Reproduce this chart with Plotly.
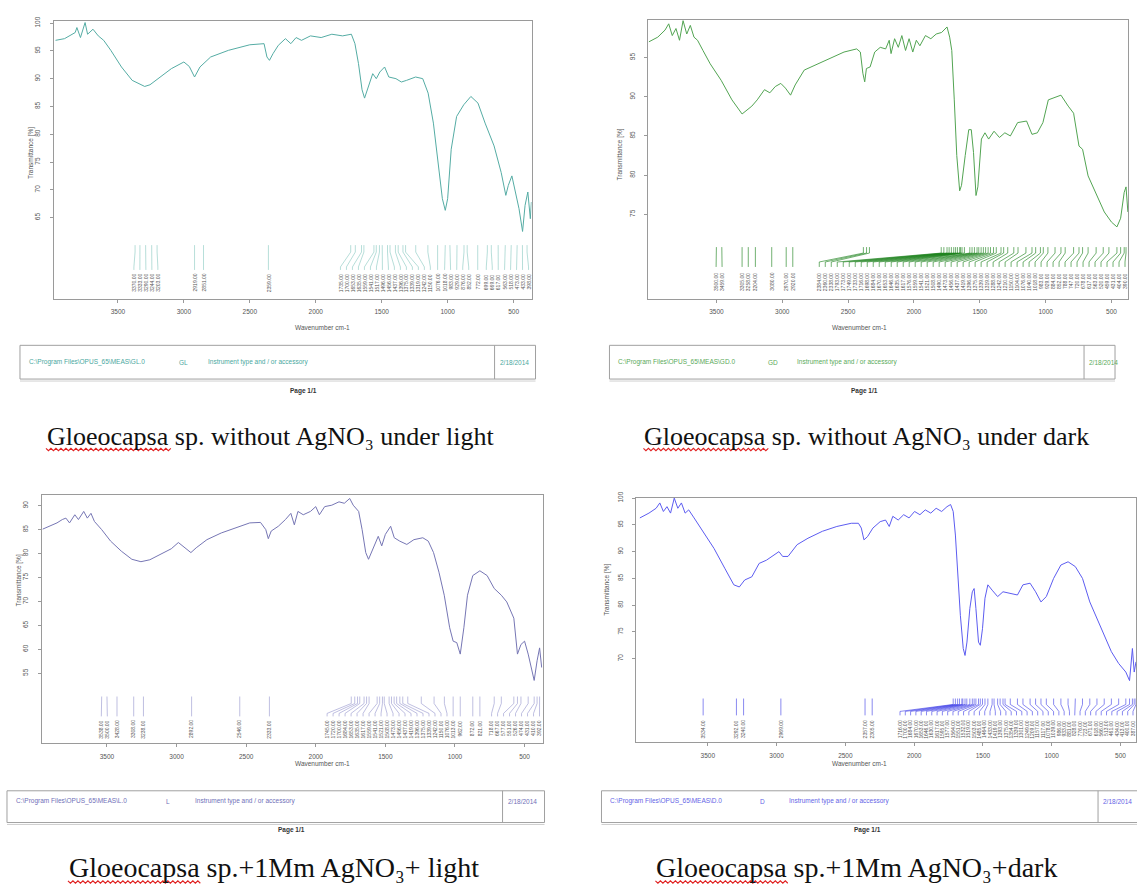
import plotly.graph_objects as go

W, H = 1137, 890

# ---------------- DATA ----------------
# Panel 1: Gloeocapsa sp. without AgNO3 under light
wn1 = [3973, 3905, 3824, 3811, 3784, 3749, 3730, 3689, 3649, 3608, 3554, 3473, 3392, 3297, 3257,
       3176, 3095, 3000, 2959, 2919, 2878, 2797, 2662, 2500, 2392, 2370, 2351, 2324, 2284, 2230,
       2189, 2149, 2108, 2040, 1959, 1878, 1797, 1730, 1703, 1676, 1649, 1630, 1608, 1568, 1541,
       1514, 1478, 1446, 1392, 1351, 1311, 1243, 1189, 1148, 1108, 1067, 1040, 1018, 1000, 973,
       932, 878, 824, 770, 716, 648, 594, 559, 540, 513, 486, 459, 432, 413, 392, 373, 365]
t1 = [96.9, 97.2, 98.3, 99.2, 97.4, 100.1, 98.0, 98.9, 97.7, 96.9, 95.1, 92.1, 89.7, 88.6, 88.9,
      90.3, 91.8, 93.0, 92.2, 90.3, 92.1, 93.9, 95.1, 96.1, 96.3, 93.9, 93.3, 94.5, 96.0, 97.2,
      96.3, 97.4, 96.9, 97.7, 97.4, 98.0, 97.7, 98.0, 96.3, 92.7, 88.0, 86.5, 88.0, 90.9, 90.0,
      91.2, 92.1, 90.3, 90.0, 89.4, 89.7, 90.3, 90.0, 87.4, 82.0, 74.3, 68.4, 66.3, 68.4, 77.3,
      83.2, 85.3, 86.8, 85.6, 82.0, 77.9, 73.1, 69.0, 70.8, 72.5, 69.6, 66.6, 62.5, 67.2, 69.6, 64.8, 67.8]
peaks1 = [3370, 3333, 3290, 3244, 3203, 2919, 2851, 2359,
          1735, 1700, 1653, 1635, 1559, 1541, 1517, 1496, 1456, 1437, 1396, 1375, 1339, 1319,
          1242, 1150, 1076, 1018, 983, 929, 876, 852, 772, 699, 669, 617, 563, 518, 473, 433, 398]

# Panel 2: Gloeocapsa sp. without AgNO3 under dark
wn2 = [4013, 3945, 3890, 3862, 3835, 3807, 3780, 3753, 3725, 3698, 3670, 3643, 3602, 3547, 3464,
       3382, 3305, 3272, 3231, 3190, 3135, 3094, 3053, 3011, 2976, 2937, 2902, 2833, 2751, 2641,
       2531, 2435, 2407, 2388, 2374, 2361, 2333, 2298, 2256, 2215, 2188, 2174, 2147, 2119, 2092,
       2064, 2037, 2009, 1982, 1955, 1913, 1872, 1831, 1790, 1749, 1729, 1713, 1694, 1675, 1653,
       1639, 1611, 1584, 1565, 1548, 1529, 1515, 1488, 1461, 1433, 1392, 1351, 1310, 1268, 1213,
       1145, 1104, 1063, 1021, 980, 925, 884, 829, 788, 747, 720, 678, 610, 555, 500, 459, 431,
       404, 390, 376]
t2 = [97.0, 97.6, 98.5, 99.3, 97.8, 98.7, 97.2, 99.7, 98.0, 99.1, 97.6, 97.2, 95.9, 94.2, 92.1,
      89.6, 87.8, 88.3, 88.8, 89.6, 90.9, 90.5, 91.3, 91.7, 91.1, 90.2, 91.5, 93.4, 94.0, 94.9,
      95.7, 96.1, 95.7, 93.0, 91.9, 93.6, 93.8, 95.7, 96.3, 96.1, 97.2, 95.5, 97.4, 96.3, 97.8,
      95.9, 97.4, 95.7, 97.2, 96.5, 97.8, 97.4, 98.0, 98.2, 98.9, 97.6, 95.9, 89.6, 82.5, 78.0,
      78.7, 82.5, 85.8, 85.8, 82.9, 77.4, 78.5, 84.6, 85.4, 84.6, 85.6, 84.8, 85.4, 85.0, 86.7,
      86.9, 85.2, 85.4, 86.7, 89.6, 90.0, 90.2, 88.8, 87.9, 83.7, 83.3, 79.9, 77.4, 75.3, 74.0, 73.4, 74.5,
      77.8, 78.5, 75.3]
peaks2 = [3500, 3459, 3305, 3258, 3204, 3080, 2970, 2920,
          2384, 2360, 2338, 1793, 1773, 1749, 1733, 1716, 1698, 1684, 1670, 1653, 1646, 1635,
          1617, 1576, 1559, 1541, 1521, 1508, 1490, 1473, 1456, 1437, 1419, 1396, 1375, 1339,
          1319, 1288, 1242, 1210, 1150, 1104, 1076, 1040, 1018, 983, 929, 884, 852, 788, 747,
          720, 678, 617, 563, 520, 459, 431, 404, 390]

# Panel 3: Gloeocapsa sp. + 1Mm AgNO3 + light
wn3 = [3962, 3910, 3859, 3821, 3795, 3769, 3731, 3705, 3667, 3641, 3615, 3590, 3538, 3474, 3397,
       3321, 3256, 3192, 3115, 3038, 2987, 2936, 2897, 2859, 2782, 2679, 2577, 2474, 2397, 2359,
       2341, 2320, 2269, 2218, 2179, 2154, 2128, 2090, 2038, 2000, 1974, 1936, 1885, 1833, 1795,
       1756, 1731, 1692, 1667, 1641, 1621, 1590, 1551, 1526, 1500, 1462, 1436, 1397, 1346, 1295,
       1231, 1192, 1154, 1115, 1077, 1038, 1013, 987, 962, 936, 910, 872, 821, 769, 718, 667,
       628, 577, 551, 526, 500, 474, 449, 431, 410, 392, 377]
t3 = [85.1, 85.7, 86.4, 87.1, 87.4, 86.4, 88.1, 87.1, 88.8, 87.4, 88.4, 86.7, 85.0, 82.6, 80.5,
      78.8, 78.3, 78.7, 79.9, 81.0, 82.3, 81.2, 80.2, 81.2, 82.9, 84.3, 85.3, 86.4, 86.5, 85.0,
      83.1, 84.7, 85.7, 87.1, 88.4, 86.0, 88.8, 88.1, 88.8, 89.8, 88.1, 89.8, 90.1, 90.8, 90.5,
      91.5, 90.1, 88.8, 85.0, 80.2, 78.8, 80.9, 83.6, 81.6, 84.0, 85.7, 83.3, 82.6, 81.9, 82.9,
      83.3, 82.6, 80.2, 76.1, 71.3, 64.5, 61.7, 61.4, 59.0, 64.5, 71.3, 75.4, 76.4, 75.4, 72.7, 71.3,
      69.9, 66.5, 59.0, 61.0, 61.7, 59.0, 55.5, 53.5, 57.6, 60.3, 56.2]
peaks3 = [3538, 3500, 3428, 3308, 3238, 2892, 2546, 2333,
          1745, 1720, 1700, 1684, 1653, 1635, 1617, 1559, 1541, 1521, 1508, 1473, 1456, 1437,
          1419, 1396, 1375, 1339, 1242, 1150, 1076, 1013, 962, 872, 821, 718, 667, 577, 551,
          526, 474, 431, 410, 392]

# Panel 4: Gloeocapsa sp. + 1Mm AgNO3 + dark
wn4 = [3994, 3928, 3876, 3849, 3823, 3797, 3771, 3744, 3718, 3692, 3665, 3639, 3600, 3534, 3455,
       3377, 3311, 3271, 3232, 3180, 3127, 3074, 3022, 2983, 2956, 2917, 2851, 2772, 2667, 2562,
       2457, 2405, 2384, 2365, 2339, 2300, 2247, 2208, 2181, 2155, 2116, 2076, 2037, 1997, 1958,
       1919, 1879, 1840, 1800, 1761, 1735, 1716, 1700, 1682, 1664, 1643, 1630, 1616, 1595, 1577,
       1564, 1551, 1532, 1519, 1503, 1485, 1464, 1433, 1393, 1354, 1301, 1249, 1209, 1157, 1117,
       1078, 1039, 986, 933, 881, 828, 776, 723, 671, 618, 566, 513, 461, 434, 413, 400, 387]
t4 = [96.3, 97.2, 98.1, 99.1, 97.5, 98.4, 97.2, 100.0, 98.1, 99.1, 97.2, 97.8, 96.3, 93.8, 90.6,
      86.9, 83.8, 83.4, 84.7, 85.3, 87.8, 88.4, 89.4, 90.0, 89.1, 89.1, 91.3, 92.5, 93.8, 94.7,
      95.3, 95.3, 94.4, 92.2, 92.8, 94.4, 95.6, 95.9, 94.7, 96.6, 95.9, 96.9, 96.3, 97.5, 96.9,
      97.8, 97.2, 98.1, 97.5, 98.4, 98.8, 97.5, 93.1, 85.6, 78.1, 71.9, 70.6, 73.1, 79.4, 82.5,
      83.1, 79.4, 73.1, 72.5, 75.6, 81.3, 83.8, 82.8, 81.6, 82.5, 82.2, 81.9, 83.8, 84.1, 82.5,
      80.6, 81.6, 85.0, 87.5, 88.1, 87.2, 85.0, 80.6, 77.5, 74.4, 71.3, 69.1, 67.5, 65.9, 71.9, 67.5, 69.4]
peaks4 = [3534, 3292, 3240, 2969, 2357, 2305,
          1716, 1700, 1684, 1670, 1653, 1646, 1630, 1617, 1595, 1577, 1564, 1551, 1532, 1519,
          1503, 1485, 1464, 1433, 1419, 1393, 1375, 1354, 1339, 1301, 1249, 1209, 1157, 1117,
          1078, 1039, 986, 933, 881, 828, 776, 723, 671, 618, 566, 513, 461, 434, 413, 400, 387]

x_ticks = [3500, 3000, 2500, 2000, 1500, 1000, 500]
y_ticks = [[100, 95, 90, 85, 80, 75, 70, 65],
           [95, 90, 85, 80, 75],
           [90, 85, 80, 75, 70, 65, 60, 55],
           [100, 95, 90, 85, 80, 75, 70]]

captions = ["Gloeocapsa sp. without AgNO\u2083 under light",
            "Gloeocapsa sp. without AgNO\u2083 under dark",
            "Gloeocapsa sp.+1Mm AgNO\u2083+ light",
            "Gloeocapsa sp.+1Mm AgNO\u2083+dark"]
footer_ids = ["GL", "GD", "L", "D"]

# ---------------- LAYOUT SPEC (pixels) ----------------
# cap = (left x, centre y, squiggle length, font size, squiggle y)
panels = [
    dict(wn=wn1, t=t1, pk=peaks1, x0=54, x1=532, y0=14, y1=294, xr=(3985, 364), yr=(50.4, 100.4),
         col="#55aca4", ccol="#86c8c0", fcol="#4aa8a0", conn=(240, 247, 262, 265, 267), sp=6.0,
         ytx=25, yty=119, xtx=293, xty=323,
         box=(20, 536, 341, 375, 495), page=(288, 387), cap=(45, 433, 126, 26, 446)),
    dict(wn=wn2, t=t2, pk=peaks2, x0=649, x1=1129, y0=13, y1=294, xr=(4016, 375), yr=(64.24, 99.8),
         col="#52a452", ccol="#127c12", fcol="#5aaa5a", conn=(242, 248, 257, 262, 266), sp=6.0,
         ytx=621, yty=120, xtx=890, xty=323,
         box=(610, 1116, 341, 375, 1085), page=(881, 387), cap=(643, 433, 126, 26, 446)),
    dict(wn=wn3, t=t3, pk=peaks3, x0=42, x1=543, y0=492, y1=742, xr=(3967, 371), yr=(40.4, 92.2),
         col="#7676b4", ccol="#9494cc", fcol="#7070b8", conn=(695, 702, 712, 715, 717), sp=6.0,
         ytx=13, yty=578, xtx=293, xty=768,
         box=(7, 545, 790, 822, 503), page=(276, 836), cap=(67, 867, 134, 28, 882)),
    dict(wn=wn4, t=t4, pk=peaks4, x0=637, x1=1137, y0=495, y1=741, xr=(4019, 387), yr=(54.4, 100.0),
         col="#5c5cf0", ccol="#3a3ae6", fcol="#6464e6", conn=(697, 703, 710, 714, 717), sp=5.3,
         ytx=608, yty=587, xtx=890, xty=768,
         box=(602, 1150, 790, 822, 1099), page=(884, 836), cap=(655, 867, 134, 28, 882)),
]


def fx(px):
    return px / W


def fy(py):
    return 1 - py / H


def spread(pos, S, lo, hi):
    """Place labels (pixel x, ascending) at least S apart, centred on their peaks."""
    groups = [[p] for p in pos]
    centers = list(pos)
    changed = True
    while changed:
        changed = False
        i = 0
        while i < len(groups) - 1:
            ri = centers[i] + (len(groups[i]) - 1) * S / 2
            lj = centers[i + 1] - (len(groups[i + 1]) - 1) * S / 2
            if lj - ri < S:
                g = groups[i] + groups[i + 1]
                groups[i:i + 2] = [g]
                c = sum(g) / len(g)
                half = (len(g) - 1) * S / 2
                c = min(max(c, lo + half), hi - half)
                centers[i:i + 2] = [c]
                changed = True
            else:
                i += 1
    out = []
    for g, c in zip(groups, centers):
        n = len(g)
        for k in range(n):
            out.append(c - (n - 1) * S / 2 + k * S)
    return out


fig = go.Figure()
annotations = []
shapes = []
layout_axes = {}
BS = "&#92;"

for i, p in enumerate(panels):
    n = "" if i == 0 else str(i + 1)
    xa, ya = "x" + n, "y" + n
    xr0, xr1 = p["xr"]
    yb, yt = p["yr"]

    def wn2px(w, p=p):
        return p["x0"] + (p["xr"][0] - w) / (p["xr"][0] - p["xr"][1]) * (p["x1"] - p["x0"])

    def px2wn(px, p=p):
        return p["xr"][0] - (px - p["x0"]) / (p["x1"] - p["x0"]) * (p["xr"][0] - p["xr"][1])

    def py2t(py, p=p):
        return p["yr"][0] + (p["y1"] - py) / (p["y1"] - p["y0"]) * (p["yr"][1] - p["yr"][0])

    # spectrum
    fig.add_trace(go.Scatter(x=p["wn"], y=p["t"], mode="lines", xaxis=xa, yaxis=ya,
                             line=dict(color=p["col"], width=1), showlegend=False, hoverinfo="skip"))

    # peak picking labels
    pk_sorted = sorted(p["pk"], reverse=True)
    pk_px = [wn2px(w) for w in pk_sorted]
    lab_px = spread(pk_px, p["sp"], p["x0"] + 3, min(p["x1"], W) - 3)
    ctop, cmid, cknee, cbot, ctext = p["conn"]
    cx, cy = [], []
    for w, lp in zip(pk_sorted, lab_px):
        lw = px2wn(lp)
        cx += [w, w, lw, lw, None]
        cy += [py2t(ctop), py2t(cmid), py2t(cknee), py2t(cbot), None]
        annotations.append(dict(x=lw, y=py2t(ctext), xref=xa, yref=ya, text=f"{w:.2f}",
                                textangle=-90, showarrow=False, xanchor="center", yanchor="top",
                                font=dict(size=5, color="#555555", family="Liberation Sans")))
    fig.add_trace(go.Scatter(x=cx, y=cy, mode="lines", xaxis=xa, yaxis=ya,
                             line=dict(color=p["ccol"], width=0.6), showlegend=False, hoverinfo="skip"))

    axis_common = dict(showgrid=False, zeroline=False, showline=True, linecolor="#9a9a9a", linewidth=1,
                       mirror=True, ticks="outside", ticklen=3, tickcolor="#9a9a9a",
                       tickfont=dict(size=6.5, color="#555555", family="Liberation Sans"))
    layout_axes["xaxis" + n] = dict(axis_common, domain=[fx(p["x0"]), fx(min(p["x1"], W))],
                                    range=[xr0, xr1], tickvals=x_ticks, anchor=ya,
                                    ticklabelstandoff=4)
    layout_axes["yaxis" + n] = dict(axis_common, domain=[fy(p["y1"]), fy(p["y0"])],
                                    range=[yb, yt], tickvals=y_ticks[i], anchor=xa,
                                    tickangle=-90, ticklabelstandoff=7)

    # axis titles
    annotations.append(dict(x=fx(p["xtx"]), y=fy(p["xty"]), xref="paper", yref="paper",
                            text="Wavenumber cm-1", showarrow=False,
                            font=dict(size=6.5, color="#555555", family="Liberation Sans")))
    annotations.append(dict(x=fx(p["ytx"]), y=fy(p["yty"]), xref="paper", yref="paper",
                            text="Transmittance [%]", textangle=-90, showarrow=False,
                            font=dict(size=6.5, color="#555555", family="Liberation Sans")))

    # footer box
    bx0, bx1, by0, by1, bdiv = p["box"]
    shapes.append(dict(type="rect", xref="paper", yref="paper", x0=fx(bx0), x1=fx(bx1),
                       y0=fy(by1), y1=fy(by0), line=dict(color="#a0a0a0", width=1)))
    shapes.append(dict(type="line", xref="paper", yref="paper", x0=fx(bx0), x1=fx(bx1),
                       y0=fy(by1 + 2), y1=fy(by1 + 2), line=dict(color="#d0d0d0", width=1)))
    shapes.append(dict(type="line", xref="paper", yref="paper", x0=fx(bdiv), x1=fx(bdiv),
                       y0=fy(by1), y1=fy(by0), line=dict(color="#a0a0a0", width=1)))
    ymid = fy((by0 + by1) / 2)
    ffont = dict(size=6.5, color=p["fcol"], family="Liberation Sans")
    annotations.append(dict(x=fx(bx0 + 7), y=ymid, xref="paper", yref="paper", xanchor="left",
                            text="C:" + BS + "Program Files" + BS + "OPUS_65" + BS + "MEAS" + BS
                                 + footer_ids[i] + ".0",
                            showarrow=False, font=ffont))
    annotations.append(dict(x=fx(bx0 + 157), y=ymid, xref="paper", yref="paper", xanchor="left",
                            text=footer_ids[i], showarrow=False, font=ffont))
    annotations.append(dict(x=fx(bx0 + 186), y=ymid, xref="paper", yref="paper", xanchor="left",
                            text="Instrument type and / or accessory", showarrow=False, font=ffont))
    annotations.append(dict(x=fx(bdiv + 3), y=ymid, xref="paper", yref="paper", xanchor="left",
                            text="2/18/2014", showarrow=False, font=ffont))
    annotations.append(dict(x=fx(p["page"][0]), y=fy(p["page"][1]), xref="paper", yref="paper",
                            text="Page 1/1", showarrow=False,
                            font=dict(size=6.5, color="#333333", family="Liberation Sans",
                                      weight="bold")))

    # caption centred at cyc
    cx0, cyc, wlen, fsz, sqy = p["cap"]
    annotations.append(dict(x=fx(cx0), y=fy(cyc), xref="paper", yref="paper", xanchor="left",
                            yanchor="middle", text=captions[i], showarrow=False,
                            font=dict(size=fsz, color="#111111",
                                      family="Liberation Serif, DejaVu Serif")))
    # spell-check squiggle under the first word
    path = []
    k = 0
    xx = cx0 + 1
    while xx <= cx0 + wlen:
        yy = sqy + (1.2 if k % 2 else -1.2)
        path.append(("M" if k == 0 else "L") + f"{fx(xx):.5f},{fy(yy):.5f}")
        xx += 2.5
        k += 1
    shapes.append(dict(type="path", xref="paper", yref="paper", path=" ".join(path),
                       line=dict(color="#e02020", width=1.1)))

fig.update_layout(width=W, height=H, margin=dict(l=0, r=0, t=0, b=0),
                  paper_bgcolor="white", plot_bgcolor="white", showlegend=False,
                  annotations=annotations, shapes=shapes, **layout_axes)

fig.write_html("out.html", config={"displayModeBar": False},
               post_script="document.body.style.margin='0';document.body.style.overflow='hidden';")
